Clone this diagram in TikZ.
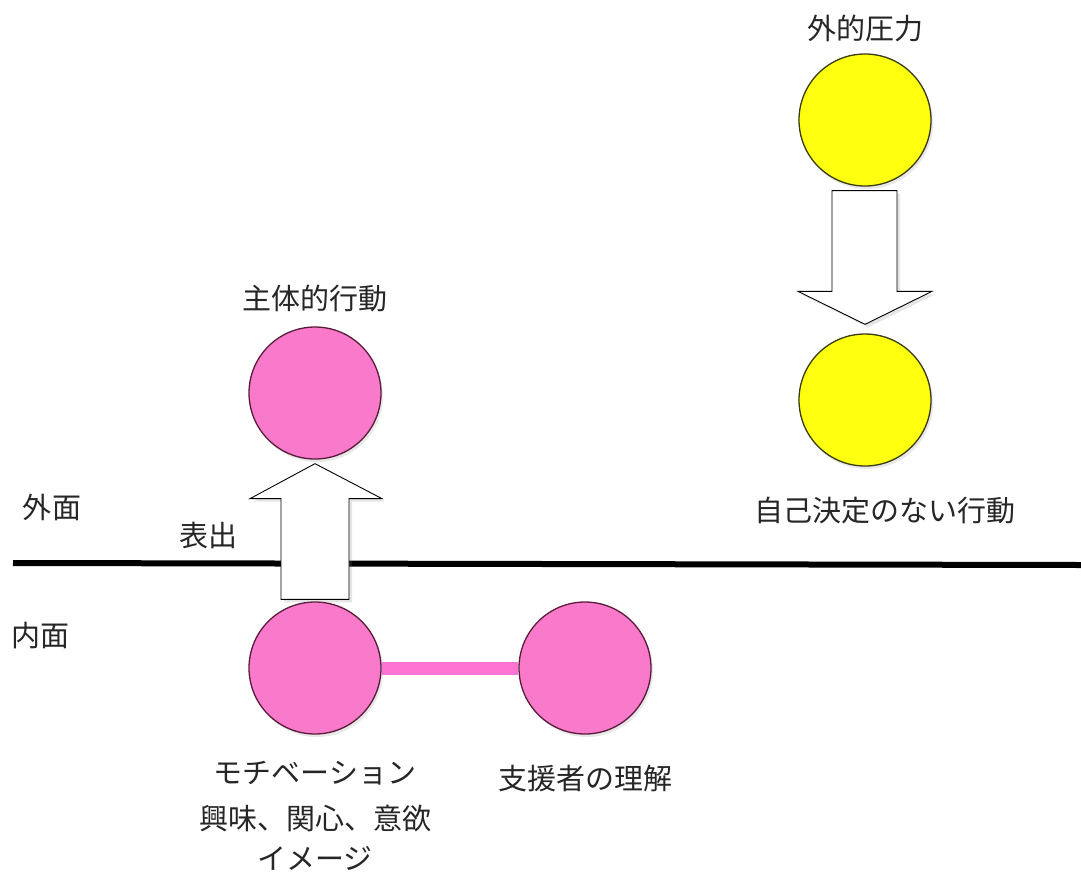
\documentclass[tikz,border=0pt]{standalone}
\usepackage{fontspec}
\newfontfamily\jp{Noto Sans CJK JP}
\usetikzlibrary{calc,shadows}
\definecolor{pinkc}{HTML}{F97ACB}
\definecolor{pinkbar}{HTML}{FF74D2}
\definecolor{yellowc}{HTML}{FFFF10}
\definecolor{rimpink}{HTML}{5A1A3A}
\definecolor{rimyel}{HTML}{3A3A10}
\begin{document}
\begin{tikzpicture}[x=1pt,y=-1pt,
  font=\jp\fontsize{29}{34}\selectfont,
  ball/.style={circle, minimum size=132pt, inner sep=0pt, line width=1.3pt,
    drop shadow={shadow xshift=2pt, shadow yshift=-3pt, opacity=0.18}},
  pinkball/.style={ball, fill=pinkc, draw=rimpink},
  yellowball/.style={ball, fill=yellowc, draw=rimyel},
  bigarrow/.style={draw=black, fill=white, line width=0.9pt, line join=miter,
    drop shadow={shadow xshift=3pt, shadow yshift=-3pt, opacity=0.2}},
  lbl/.style={inner sep=0pt, text=black!85},
  bar/.style={draw=pinkbar, line width=13pt}]
\useasboundingbox (0,0) rectangle (1081,873);
\fill[white] (0,0) rectangle (1081,873);

% boundary line
\coordinate (lineL) at (13,563);
\coordinate (lineR) at (1081,565);
\draw[line width=6pt] (lineL) -- (lineR);

% circles
\node[pinkball] (act) at (315,393) {};
\node[pinkball] (mot) at (315,668) {};
\node[pinkball] (sup) at (585,668) {};
\node[yellowball] (ext) at (865,120) {};
\node[yellowball] (nod) at (865,400) {};

% connector
\draw[bar] (mot) -- (sup);

% up arrow (表出)
\filldraw[bigarrow]
  ($(mot.north)+(-34,-2)$) -- ($(act.south)+(-34,39)$) -- ($(act.south)+(-65,39)$)
  -- ($(act.south)+(0,4)$) -- ($(act.south)+(67,39)$) -- ($(act.south)+(34,39)$)
  -- ($(mot.north)+(34,-2)$) -- cycle;

% down arrow
\filldraw[bigarrow]
  ($(ext.south)+(-33,4)$) -- ($(nod.north)+(-33,-42)$) -- ($(nod.north)+(-67,-42)$)
  -- ($(nod.north)+(0,-9)$) -- ($(nod.north)+(67,-42)$) -- ($(nod.north)+(32,-42)$)
  -- ($(ext.south)+(32,4)$) -- cycle;

% labels
\node[lbl] (tact) at (315,298) {主体的行動};
\node[lbl] (text) at (865,28) {外的圧力};
\node[lbl] (tnod) at (885,511) {自己決定のない行動};
\node[lbl] (gaimen) at (52,507) {外面};
\node[lbl] (hyoshutsu) at (208,535) {表出};
\node[lbl] (naimen) at (40,635) {内面};
\node[lbl] (tmot1) at (315,773) {モチベーション};
\node[lbl] (tmot2) at (315,818) {興味、関心、意欲};
\node[lbl] (tmot3) at (315,858) {イメージ};
\node[lbl] (tsup) at (585,778) {支援者の理解};
\end{tikzpicture}
\end{document}
